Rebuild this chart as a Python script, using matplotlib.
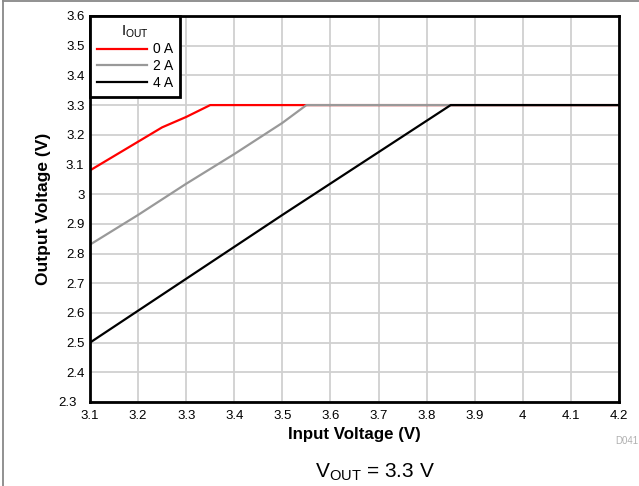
import matplotlib.pyplot as plt
import matplotlib.transforms as mtransforms
from matplotlib.lines import Line2D

plt.rcParams['font.family'] = ['Liberation Sans', 'DejaVu Sans']

# Output voltage vs input voltage, one series per load current
vin_0a = [3.1, 3.25, 3.3, 3.35, 4.2]
vout_0a = [3.08, 3.225, 3.26, 3.3, 3.3]

vin_2a = [3.1, 3.2, 3.3, 3.4, 3.5, 3.55, 4.2]
vout_2a = [2.83, 2.93, 3.035, 3.135, 3.24, 3.3, 3.3]

vin_4a = [3.1, 3.5, 3.85, 4.2]
vout_4a = [2.5, 2.93, 3.3, 3.3]

labels = ['0 A', '2 A', '4 A']
colors = ['#ff0000', '#999999', '#000000']

xticks = [3.1, 3.2, 3.3, 3.4, 3.5, 3.6, 3.7, 3.8, 3.9, 4.0, 4.1, 4.2]
xticklabels = ['3.1', '3.2', '3.3', '3.4', '3.5', '3.6', '3.7', '3.8', '3.9', '4', '4.1', '4.2']
yticks = [2.3, 2.4, 2.5, 2.6, 2.7, 2.8, 2.9, 3.0, 3.1, 3.2, 3.3, 3.4, 3.5, 3.6]
yticklabels = ['2.3', '2.4', '2.5', '2.6', '2.7', '2.8', '2.9', '3', '3.1', '3.2', '3.3', '3.4', '3.5', '3.6']

fig = plt.figure(figsize=(6.39, 4.86), dpi=100)
ax = fig.add_axes([90/639, 1-402/486, 529/639, 386/486])

for xs, ys, c, lab in zip([vin_0a, vin_2a, vin_4a], [vout_0a, vout_2a, vout_4a], colors, labels):
    ax.plot(xs, ys, color=c, lw=1.6, label=lab)

ax.set_xlim(3.1, 4.2)
ax.set_ylim(2.3, 3.6)
ax.set_xticks(xticks)
ax.set_xticklabels(xticklabels)
ax.set_yticks(yticks)
ax.set_yticklabels(yticklabels)
ax.tick_params(length=0, labelsize=9.5)
ax.tick_params(axis='x', pad=5.5)
ax.tick_params(axis='y', pad=4)
ax.grid(True, color='#d0d0d0', lw=1.3)
ax.set_axisbelow(True)
for s in ax.spines.values():
    s.set_linewidth(2)

# nudge the bottom y label left so it clears the 3.1 x label
first = ax.yaxis.get_major_ticks()[0].label1
first.set_transform(first.get_transform() +
                    mtransforms.ScaledTranslation(-0.08, 0.01, fig.dpi_scale_trans))

ax.set_xlabel('Input Voltage (V)', fontsize=12.2, fontweight='bold')
ax.xaxis.set_label_coords(0.499, -0.066)
ax.set_ylabel('Output Voltage (V)', fontsize=12.5, fontweight='bold')
ax.yaxis.set_label_coords(-0.074, 0.5)

leg = ax.legend(title='I$_{\\mathregular{OUT}}$', loc='upper left', fontsize=10,
                title_fontsize=10.5, fancybox=False, framealpha=1,
                edgecolor='black', borderaxespad=0, handlelength=3.6,
                handletextpad=0.45, labelspacing=0.2, borderpad=0.5)
leg.get_frame().set_linewidth(2)

fig.text(627/639, 1-441/486, 'D041', fontsize=7, color='#b0b0b0', ha='center', va='center')
fig.text(375/639, 1-477/486, 'V$_{\\mathregular{OUT}}$ = 3.3 V', fontsize=15,
         ha='center', va='baseline')

# page frame on the top and left edges
fig.add_artist(Line2D([3/639, 3/639], [0, 1-1.5/486], color='#888888', lw=1.3))
fig.add_artist(Line2D([3/639, 1], [1-1.5/486, 1-1.5/486], color='#888888', lw=1.3))

fig.savefig('out.png', dpi=100)
